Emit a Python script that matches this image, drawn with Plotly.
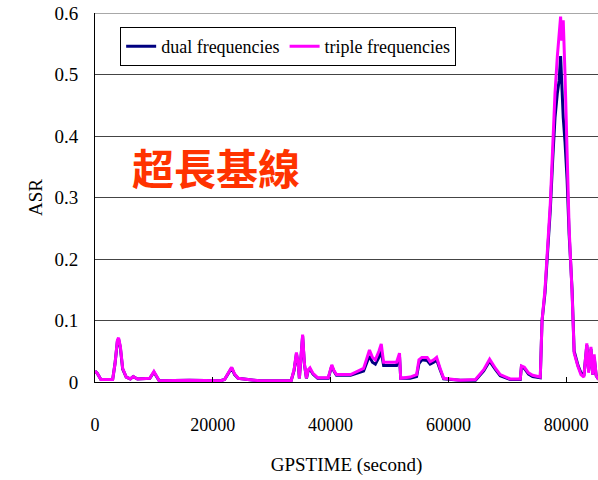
import plotly.graph_objects as go

# GPS time of day (seconds) and ASR for the two solutions
gps_time = [0, 400, 1000, 3000, 3400, 3800, 4000, 4300, 4700, 5300, 6000, 6500, 7200, 9300,
            10000, 10500, 10900, 16000, 21300, 22000, 22700, 23200, 23700, 24300, 27000, 28000,
            33300, 33800, 34200, 34500, 34700, 35000, 35250, 35550, 35900, 36200, 36500, 37000,
            37800, 39600, 40000, 40200, 40600, 41000, 43400, 45600, 46200, 46600, 47100, 47600,
            48200, 48600, 49000, 51200, 51700, 51900, 53500, 54600, 55000, 55500, 56400, 56900,
            57500, 58000, 58600, 59200, 62000, 64600, 66000, 67000, 68000, 68800, 70500, 72200,
            72400, 72900, 73600, 74300, 75600, 75900, 76400, 76900, 77300, 77700, 78100, 78500,
            78800, 79050, 79250, 79500, 79800, 80150, 80500, 81000, 81350, 82000, 82500, 83000,
            83500, 83800, 84200, 84500, 84750, 85100, 85500]

asr_triple = [0.018, 0.014, 0.004, 0.004, 0.030, 0.068, 0.072, 0.058, 0.022, 0.008, 0.005, 0.009,
              0.005, 0.006, 0.017, 0.008, 0.002, 0.003, 0.002, 0.004, 0.016, 0.024, 0.013, 0.006,
              0.003, 0.002, 0.002, 0.020, 0.048, 0.030, 0.006, 0.040, 0.077, 0.030, 0.006, 0.020,
              0.023, 0.014, 0.007, 0.007, 0.022, 0.028, 0.018, 0.012, 0.012, 0.022, 0.040, 0.052,
              0.040, 0.036, 0.050, 0.062, 0.032, 0.032, 0.047, 0.006, 0.008, 0.012, 0.036, 0.040,
              0.040, 0.033, 0.036, 0.040, 0.022, 0.006, 0.003, 0.004, 0.020, 0.037, 0.022, 0.012,
              0.005, 0.005, 0.026, 0.024, 0.015, 0.011, 0.008, 0.100, 0.150, 0.226, 0.290, 0.380,
              0.470, 0.530, 0.560, 0.594, 0.555, 0.588, 0.500, 0.360, 0.250, 0.145, 0.047, 0.025,
              0.012, 0.008, 0.063, 0.015, 0.057, 0.012, 0.045, 0.010, 0.004]

asr_dual = [0.018, 0.014, 0.004, 0.004, 0.030, 0.066, 0.070, 0.056, 0.021, 0.008, 0.005, 0.009,
            0.005, 0.006, 0.016, 0.008, 0.002, 0.003, 0.002, 0.004, 0.015, 0.023, 0.012, 0.006,
            0.003, 0.002, 0.002, 0.019, 0.046, 0.029, 0.006, 0.038, 0.075, 0.029, 0.006, 0.019,
            0.021, 0.013, 0.006, 0.006, 0.020, 0.026, 0.017, 0.011, 0.011, 0.018, 0.033, 0.042,
            0.032, 0.029, 0.040, 0.050, 0.027, 0.027, 0.042, 0.006, 0.006, 0.009, 0.030, 0.036,
            0.035, 0.029, 0.032, 0.036, 0.020, 0.005, 0.003, 0.003, 0.018, 0.034, 0.020, 0.010,
            0.004, 0.004, 0.025, 0.022, 0.013, 0.009, 0.007, 0.100, 0.145, 0.215, 0.280, 0.360,
            0.430, 0.470, 0.490, 0.530, 0.470, 0.430, 0.390, 0.330, 0.240, 0.150, 0.050, 0.027,
            0.015, 0.010, 0.060, 0.018, 0.054, 0.012, 0.040, 0.010, 0.004]

y_ticks = [0, 0.1, 0.2, 0.3, 0.4, 0.5, 0.6]
y_tick_text = ["0", "0.1", "0.2", "0.3", "0.4", "0.5", "0.6"]
x_ticks = [0, 20000, 40000, 60000, 80000]
x_tick_text = ["0", "20000", "40000", "60000", "80000"]

serif = "Liberation Serif"

fig = go.Figure()
fig.add_trace(go.Scatter(x=gps_time, y=asr_dual, mode="lines", name="dual frequencies",
                         line=dict(color="#000080", width=3)))
fig.add_trace(go.Scatter(x=gps_time, y=asr_triple, mode="lines", name="triple frequencies",
                         line=dict(color="#FF00FF", width=3)))

# faint top boundary at 0.6
fig.add_shape(type="line", xref="paper", yref="y", x0=0, x1=1, y0=0.6, y1=0.6,
              line=dict(color="#A8A8A8", width=2))

fig.add_annotation(text="<b>超長基線</b>", xref="paper", yref="paper", x=0.24, y=0.585,
                   xanchor="center", yanchor="middle", showarrow=False,
                   font=dict(family="Noto Sans CJK TC", size=42, color="#FF3300"))

fig.update_layout(
    width=598, height=480,
    margin=dict(l=95, r=0, t=13, b=98),
    paper_bgcolor="white", plot_bgcolor="white",
    font=dict(family=serif, size=18, color="black"),
    showlegend=True,
    legend=dict(orientation="h", x=0.05, y=0.962, xanchor="left", yanchor="top",
                bgcolor="white", bordercolor="black", borderwidth=1,
                font=dict(family=serif, size=18, color="black"),
                itemwidth=30, tracegroupgap=0),
    xaxis=dict(range=[0, 85400], tickmode="array", tickvals=x_ticks, ticktext=x_tick_text,
               showgrid=False, zeroline=False, showline=True, linecolor="black", linewidth=1,
               ticks="inside", ticklen=5, tickcolor="black", ticklabelstandoff=26,
               tickfont=dict(family=serif, size=18),
               title=dict(text="GPSTIME (second)", standoff=24,
                          font=dict(family=serif, size=19))),
    yaxis=dict(range=[0, 0.6], tickmode="array", tickvals=y_ticks, ticktext=y_tick_text,
               showgrid=True, gridcolor="#444444", gridwidth=1, zeroline=False,
               showline=True, linecolor="black", linewidth=1, ticks="",
               ticklabelstandoff=12, tickfont=dict(family=serif, size=19),
               title=dict(text="ASR", standoff=6, font=dict(family=serif, size=19))),
)

fig.write_html("out.html")
